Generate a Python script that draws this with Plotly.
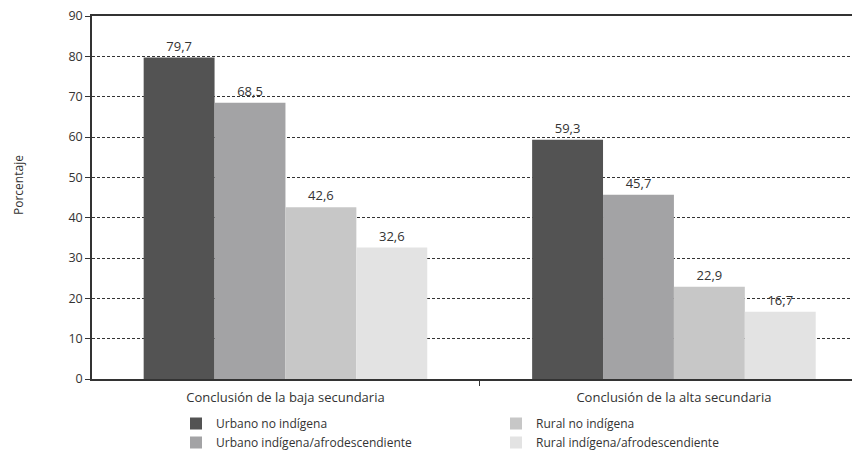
import plotly.graph_objects as go

categories = ["Conclusión de la baja secundaria", "Conclusión de la alta secundaria"]
series_names = ["Urbano no indígena", "Urbano indígena/afrodescendiente",
                "Rural no indígena", "Rural indígena/afrodescendiente"]
urbano_no_indigena = [79.7, 59.3]
urbano_indigena = [68.5, 45.7]
rural_no_indigena = [42.6, 22.9]
rural_indigena = [32.6, 16.7]
y_ticks = [0, 10, 20, 30, 40, 50, 60, 70, 80, 90]

colors = ["#535353", "#a3a3a5", "#c7c7c7", "#e3e3e3"]
values = [urbano_no_indigena, urbano_indigena, rural_no_indigena, rural_indigena]
legends = ["legend", "legend", "legend2", "legend2"]

FONT = "Open Sans"

fig = go.Figure()
for name, vals, col, lg in zip(series_names, values, colors, legends):
    fig.add_trace(go.Bar(
        x=categories, y=vals, name=name,
        marker=dict(color=col, line=dict(width=0)),
        texttemplate="%{y:.1f}", textposition="outside",
        textfont=dict(family=FONT, size=13, color="#333333"),
        cliponaxis=False, legend=lg,
    ))

# page body has an 8px margin; figure coords = screen coords - 8
OFF = 8
L, T, PW, PH = 92 - OFF, 16 - OFF, 768, 363
BOT = T + PH


def px(xs):
    return (xs - OFF - L) / PW


def py(ys):
    return (BOT - (ys - OFF)) / PH


fig.update_layout(
    width=860, height=454,
    margin=dict(l=L, r=860 - L - PW, t=T, b=454 - BOT, autoexpand=False),
    paper_bgcolor="white", plot_bgcolor="white",
    separators=",.",
    barmode="group", bargap=0.27, bargroupgap=0,
    font=dict(family=FONT, size=12, color="#333333"),
    showlegend=True,
    legend=dict(x=px(176), y=py(409), xanchor="left", yanchor="top",
                orientation="v", font=dict(family=FONT, size=12, color="#333333"),
                itemwidth=30, tracegroupgap=0, bgcolor="rgba(0,0,0,0)"),
    legend2=dict(x=px(496), y=py(409), xanchor="left", yanchor="top",
                 orientation="v", font=dict(family=FONT, size=12, color="#333333"),
                 itemwidth=30, tracegroupgap=0, bgcolor="rgba(0,0,0,0)"),
    xaxis=dict(
        range=[-0.498, 1.479],
        showline=True, linecolor="#333333", linewidth=1.5, mirror=True,
        ticks="outside", tickson="boundaries", ticklen=5, tickcolor="#333333",
        ticklabelstandoff=6,
        tickfont=dict(family=FONT, size=13, color="#333333"),
        showgrid=False,
    ),
    yaxis=dict(
        range=[0, 90], tickvals=y_ticks,
        showline=True, linecolor="#333333", linewidth=1.5,
        ticks="outside", ticklen=5, tickcolor="#333333",
        ticklabeloverflow="allow",
        tickfont=dict(family=FONT, size=12.5, color="#333333"),
        showgrid=True, gridcolor="#333333", gridwidth=1, griddash="3px,2px",
        zeroline=False,
    ),
    annotations=[dict(
        text="Porcentaje", x=px(18), xref="paper", xanchor="center",
        y=py(185), yref="paper", textangle=-90, showarrow=False,
        font=dict(family=FONT, size=12, color="#333333"),
    )],
)

fig.write_html("out.html")
